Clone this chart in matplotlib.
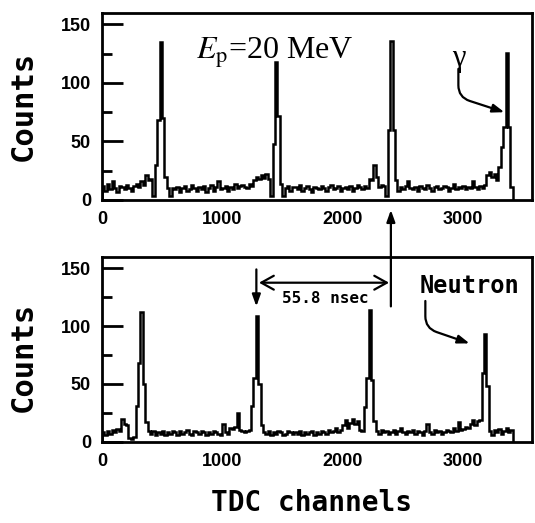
import numpy as np
import matplotlib
matplotlib.use('Agg')
import matplotlib.pyplot as plt
from matplotlib.patches import ConnectionPatch

plt.rcParams['mathtext.fontset'] = 'stix'

bin_width = 20  # TDC channels per bin

# gamma run (top), counts per 20-channel bin starting at channel 0
gamma_counts = [
    12, 8, 14, 9, 16, 10, 7, 12, 11, 9,
    13, 10, 8, 12, 14, 11, 16, 13, 21, 17,
    18, 3, 30, 68, 135, 70, 20, 10, 3, 10,
    9, 11, 7, 10, 12, 8, 9, 13, 10, 8,
    11, 9, 12, 7, 10, 13, 8, 11, 16, 9,
    10, 12, 8, 11, 9, 14, 10, 12, 13, 11,
    10, 14, 12, 17, 20, 18, 21, 19, 22, 18,
    3, 48, 118, 72, 14, 3, 10, 12, 8, 11,
    11, 9, 13, 8, 10, 12, 9, 7, 11, 10,
    9, 12, 10, 8, 11, 13, 9, 10, 12, 8,
    10, 11, 9, 12, 8, 10, 13, 11, 9, 12,
    10, 18, 17, 30, 20, 11, 13, 12, 3, 60,
    136, 60, 17, 8, 11, 9, 12, 16, 10, 9,
    11, 8, 12, 10, 9, 13, 10, 8, 11, 12,
    9, 10, 12, 11, 8, 10, 14, 9, 11, 10,
    12, 9, 11, 10, 16, 11, 9, 12, 10, 13,
    21, 24, 20, 22, 17, 28, 45, 62, 126, 62,
    11,
]

# neutron run (bottom)
neutron_counts = [
    8, 6, 9, 7, 10, 8, 11, 9, 20, 15,
    14, 3, 2, 4, 31, 68, 112, 50, 17, 9,
    7, 9, 6, 8, 7, 9, 6, 8, 7, 9,
    8, 6, 9, 7, 8, 10, 7, 6, 9, 8,
    7, 9, 8, 6, 8, 7, 9, 8, 7, 6,
    15, 8, 7, 12, 11, 13, 25, 10, 9, 8,
    9, 10, 31, 55, 109, 50, 14, 8, 7, 9,
    6, 8, 7, 9, 8, 6, 7, 9, 8, 7,
    8, 7, 9, 6, 8, 7, 8, 9, 6, 8,
    7, 9, 8, 7, 10, 8, 9, 12, 8, 10,
    14, 19, 12, 16, 20, 15, 18, 10, 9, 30,
    55, 114, 53, 18, 9, 7, 10, 8, 9, 7,
    8, 10, 7, 9, 12, 8, 7, 9, 8, 10,
    7, 9, 8, 6, 9, 15, 8, 7, 10, 8,
    9, 7, 8, 10, 9, 8, 12, 9, 17, 10,
    11, 13, 12, 15, 19, 14, 18, 19, 59, 93,
    48, 9, 6, 10, 8, 11, 7, 9, 12, 8,
    10,
]

x_ticks = [0, 1000, 2000, 3000]
y_ticks = [0, 50, 100, 150]
y_minor = [25, 75, 125]

tick_font = dict(family='Liberation Sans', weight='bold', size=13)
mono = ['DejaVu Sans Mono']

fig = plt.figure(figsize=(5.35, 5.23), dpi=100)
ax1 = fig.add_axes([0.1907, 0.6176, 0.8037, 0.3581])
ax2 = fig.add_axes([0.1907, 0.1555, 0.8037, 0.3537])

for ax, counts in [(ax1, gamma_counts), (ax2, neutron_counts)]:
    edges = np.arange(len(counts) + 1) * bin_width
    ax.stairs(counts, edges, baseline=0, color='black', lw=1.8)
    ax.set_xlim(0, 3580)
    ax.set_ylim(0, 160)
    ax.set_xticks(x_ticks)
    ax.set_yticks(y_ticks)
    ax.set_yticks(y_minor, minor=True)
    ax.tick_params(axis='x', length=0, pad=8)
    ax.tick_params(axis='y', which='major', direction='in', length=15, width=2, pad=8)
    ax.tick_params(axis='y', which='minor', direction='in', length=7.5, width=2)
    for lab in ax.get_xticklabels() + ax.get_yticklabels():
        lab.set_fontproperties(tick_font)
    for sp in ax.spines.values():
        sp.set_linewidth(2)
    ax.set_ylabel('Counts', family=mono, weight='bold', fontsize=22)

ax1.yaxis.set_label_coords(-0.15, 0.5)
ax2.yaxis.set_label_coords(-0.15, 0.46)

fig.text(311.5 / 535, 1 - 511 / 523, 'TDC channels', family=mono, weight='bold',
         fontsize=20, ha='center', va='baseline')

arrow_head = '-|>,head_length=0.7,head_width=0.25'

# top panel
ax1.text(783, 121, r'$E_{\rm p}$=20 MeV', family='Liberation Serif', fontsize=23,
         ha='left', va='baseline')
ax1.text(2972, 133, 'γ', family='Liberation Serif', fontsize=22, ha='center', va='top')
ax1.annotate('', xy=(3350, 75), xytext=(2967, 112),
             arrowprops=dict(arrowstyle=arrow_head, color='black', lw=1.6,
                             connectionstyle='angle,angleA=-90,angleB=162,rad=12',
                             shrinkA=0, shrinkB=0))

# bottom panel
ax2.text(2648, 129, 'Neutron', family=mono, weight='bold', fontsize=17,
         ha='left', va='baseline')
ax2.annotate('', xy=(3060, 85), xytext=(2692, 121.7),
             arrowprops=dict(arrowstyle=arrow_head, color='black', lw=1.6,
                             connectionstyle='angle,angleA=-90,angleB=161,rad=12',
                             shrinkA=0, shrinkB=0))
ax2.annotate('', xy=(1285, 117), xytext=(1285, 149),
             arrowprops=dict(arrowstyle=arrow_head, color='black', lw=1.6,
                             shrinkA=0, shrinkB=0))
ax2.annotate('', xy=(2390, 137.5), xytext=(1307, 137.5),
             arrowprops=dict(arrowstyle='<->,head_length=0.9,head_width=0.5',
                             color='black', lw=1.6, shrinkA=0, shrinkB=0))
ax2.text(1857, 120, '55.8 nsec', family=mono, weight='bold', fontsize=11.5,
         ha='center', va='baseline')

# line from the neutron spectrum up to the gamma peak
link = ConnectionPatch(xyA=(2405, 117), coordsA=ax2.transData,
                       xyB=(2405, -8.5), coordsB=ax1.transData,
                       arrowstyle=arrow_head, color='black', lw=1.6,
                       shrinkA=0, shrinkB=0)
fig.add_artist(link)

fig.savefig('out.png', dpi=100)
